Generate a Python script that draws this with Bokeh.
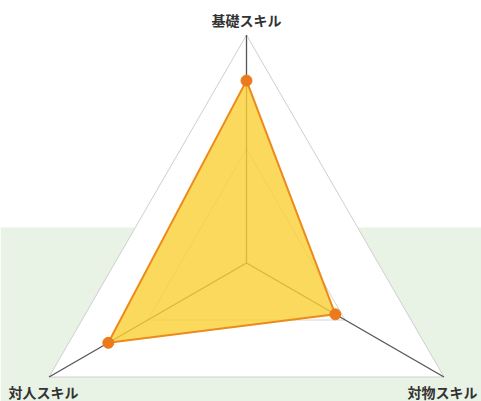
import numpy as np
from bokeh.plotting import figure
from bokeh.models import BoxAnnotation, Range1d
from bokeh.core.properties import value
from bokeh.embed import file_html
from bokeh.resources import INLINE

categories = ["基礎スキル", "対物スキル", "対人スキル"]
scores = [80, 45, 70]
max_score = 100
grid_levels = [50, 100]
angles_deg = [90, -30, 210]

W, H = 481, 401
R = 228.0  # px per unit radius
cx_px, cy_px = 246.0, 262.5  # center in figure pixels

x0 = -cx_px / R
x1 = (W - cx_px) / R
y1 = cy_px / R
y0 = -(H - cy_px) / R

p = figure(width=W, height=H, output_backend="svg", toolbar_location=None,
           x_range=Range1d(x0, x1), y_range=Range1d(y0, y1),
           min_border=0, background_fill_color="white", border_fill_color="white")
p.axis.visible = False
p.grid.visible = False
p.outline_line_color = None

# green band
green_top = (cy_px - 227.0) / R
p.add_layout(BoxAnnotation(top=green_top, fill_color="#E8F3E5", fill_alpha=1.0,
                           line_color=None, level="underlay"))

ang = np.deg2rad(np.array(angles_deg, dtype=float))
ux, uy = np.cos(ang), np.sin(ang)

# outer triangle (white filled)
outer = grid_levels[-1] / max_score
p.patch(list(ux * outer), list(uy * outer), fill_color="white", line_color="#CFCFCF", line_width=1)
for lv in grid_levels[:-1]:
    r = lv / max_score
    p.patch(list(ux * r), list(uy * r), fill_color=None, line_color="#D6D6D6", line_width=1)

# axes
for i in range(len(categories)):
    p.line([0, ux[i]], [0, uy[i]], line_color="#555555", line_width=1.3)

# data polygon
rv = np.array(scores, dtype=float) / max_score
px_ = list(ux * rv)
py_ = list(uy * rv)
p.patch(px_, py_, fill_color="#FACF35", fill_alpha=0.8, line_color=None)
p.line(px_ + [px_[0]], py_ + [py_[0]], line_color="#EC8A1C", line_width=2)
p.scatter(px_, py_, size=11, fill_color="#EC7A1C", line_color="#EC7A1C")

# labels
font = value("Noto Sans CJK JP")
style = dict(text_font=font, text_font_size="14px", text_color="#333333",
             text_font_style="bold", text_baseline="middle")
p.text(x=[0], y=[(cy_px - 19.0) / R], text=[categories[0]], text_align="center", **style)
p.text(x=[(8.0 - cx_px) / R], y=[-(391.0 - cy_px) / R], text=[categories[2]], text_align="left", **style)
p.text(x=[(477.0 - cx_px) / R], y=[-(391.0 - cy_px) / R], text=[categories[1]], text_align="right", **style)

open("out.html", "w").write(file_html(p, INLINE))
